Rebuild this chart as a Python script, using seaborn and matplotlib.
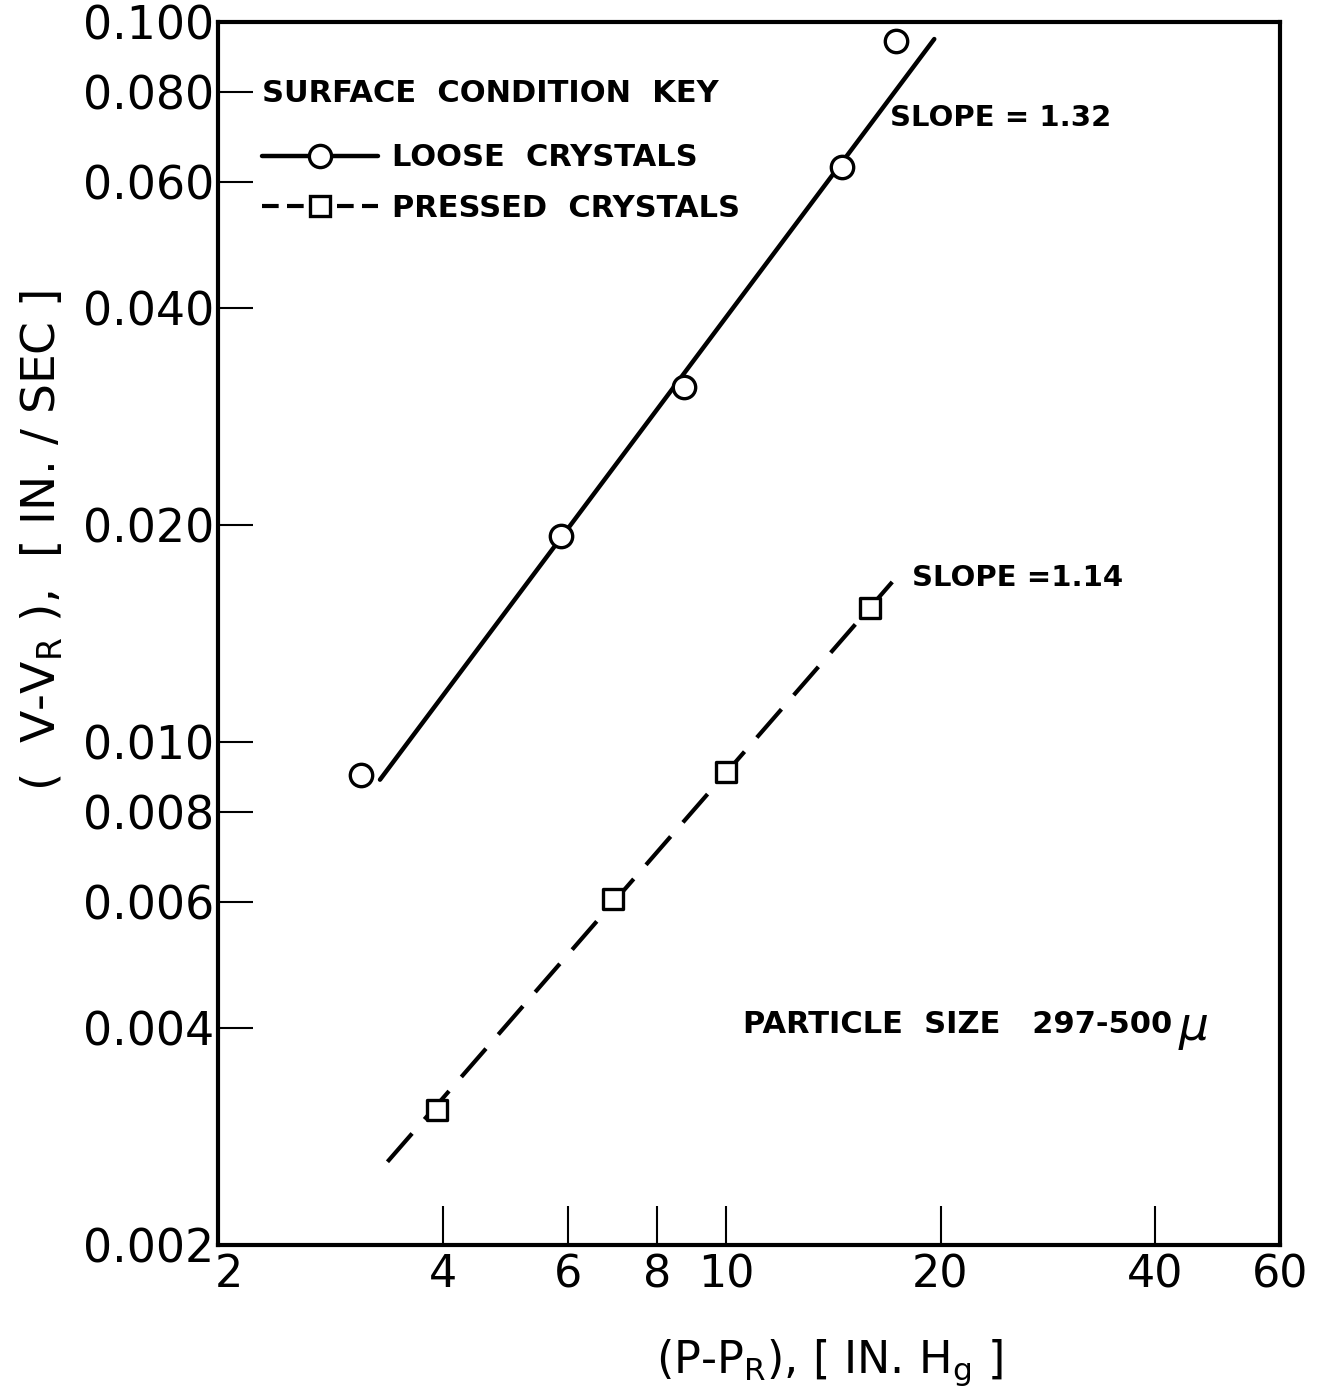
import matplotlib
matplotlib.use("Agg")
import matplotlib.pyplot as plt
from matplotlib.lines import Line2D
import seaborn as sns

# values (log-log plot)
loose_x = [3.07, 5.85, 8.73, 14.55, 17.3]
loose_y = [0.0090, 0.0193, 0.0311, 0.0629, 0.0940]
pressed_x = [3.92, 6.94, 10.0, 15.9]
pressed_y = [0.00308, 0.00605, 0.00909, 0.01535]

# straight fit lines (end points)
loose_fit_x = [3.26, 19.6]
loose_fit_y = [0.00886, 0.0947]
pressed_fit_x = [3.34, 17.4]
pressed_fit_y = [0.00261, 0.0170]

x_ticks = [2, 4, 6, 8, 10, 20, 40, 60]
x_labels = ["2", "4", "6", "8", "10", "20", "40", "60"]
y_ticks = [0.002, 0.004, 0.006, 0.008, 0.010, 0.020, 0.040, 0.060, 0.080, 0.100]
y_labels = ["0.002", "0.004", "0.006", "0.008", "0.010", "0.020", "0.040", "0.060", "0.080", "0.100"]

sns.set_style("ticks")
plt.rcParams["font.family"] = ["DejaVu Sans"]
for k in ["text.color", "axes.labelcolor", "xtick.color", "ytick.color", "axes.edgecolor"]:
    plt.rcParams[k] = "black"

fig = plt.figure(figsize=(13.18, 13.88), dpi=100)
ax = fig.add_axes([218 / 1318, 1 - 1245 / 1388, (1280 - 218) / 1318, (1245 - 22) / 1388])

sns.lineplot(x=loose_fit_x, y=loose_fit_y, ax=ax, color="black", lw=3.2, zorder=2)
sns.lineplot(x=pressed_fit_x, y=pressed_fit_y, ax=ax, color="black", lw=3.0, zorder=2)
ax.lines[-1].set_dashes([9, 4.5])

sns.scatterplot(x=loose_x, y=loose_y, ax=ax, marker="o", s=260, facecolor="white",
                edgecolor="black", linewidth=2.4, zorder=3)
sns.scatterplot(x=pressed_x, y=pressed_y, ax=ax, marker="s", s=190, facecolor="white",
                edgecolor="black", linewidth=2.4, zorder=3)

ax.set_xscale("log")
ax.set_yscale("log")
ax.set_xlim(1.93, 60)
ax.set_ylim(0.002, 0.1)

ax.set_xticks(x_ticks)
ax.set_xticklabels(x_labels)
ax.set_yticks(y_ticks)
ax.set_yticklabels(y_labels)
ax.minorticks_off()
ax.tick_params(axis="x", direction="in", length=28, width=1.5, labelsize=32, pad=6)
ax.tick_params(axis="y", direction="in", length=25, width=1.5, labelsize=33, pad=3)
for t in (ax.xaxis.get_major_ticks()[0], ax.xaxis.get_major_ticks()[-1]):
    t.tick1line.set_visible(False)

for s in ax.spines.values():
    s.set_linewidth(3.0)
    s.set_color("black")

ax.set_ylabel(r"(  V-V$_\mathregular{R}$ ),  [ IN. / SEC ]", fontsize=34)
ax.yaxis.set_label_coords(-0.144, 0.576)
ax.set_xlabel(r"(P-P$_\mathregular{R}$), [ IN. H$_\mathregular{g}$ ]", fontsize=32)
ax.xaxis.set_label_coords(0.576, -0.075)

txt = dict(fontsize=21, fontweight="bold", transform=ax.transAxes, va="center", ha="left")
ax.text(0.633, 0.9215, "SLOPE = 1.32", **txt)
ax.text(0.6535, 0.5454, "SLOPE =1.14", **txt)
ax.text(0.4944, 0.1799, "PARTICLE  SIZE   297-500", **dict(txt, fontsize=22))
ax.text(0.904, 0.1760, r"$\mu$", **dict(txt, fontsize=34))

handles = [
    Line2D([], [], color="black", lw=3.2, marker="o", ms=16, mfc="white", mec="black", mew=2.4),
    Line2D([], [], color="black", lw=3.0, dashes=[4, 2], marker="s", ms=14, mfc="white",
           mec="black", mew=2.4),
]
leg = ax.legend(handles, ["LOOSE  CRYSTALS", "PRESSED  CRYSTALS"], title="SURFACE  CONDITION  KEY",
                loc="upper left", bbox_to_anchor=(0.0414, 0.953), frameon=False,
                prop={"size": 22, "weight": "bold"}, handlelength=3.8, handletextpad=0.45,
                labelspacing=0.7, borderpad=0, borderaxespad=0, alignment="left")
leg.get_title().set_fontsize(22)
leg.get_title().set_fontweight("bold")
leg._legend_box.sep = 25

fig.savefig("out.png", dpi=100, facecolor="white")
